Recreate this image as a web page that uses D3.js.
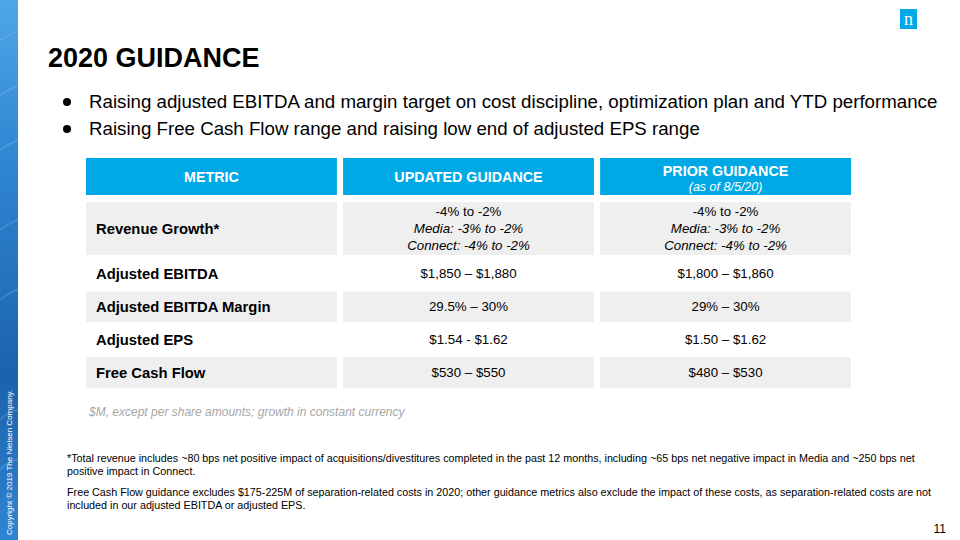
<!DOCTYPE html>
<html>
<head>
<meta charset="utf-8">
<script src="https://cdn.jsdelivr.net/npm/d3@7"></script>
<style>
  body { margin: 0; background: #fff; }
  svg { display: block; font-family: Arial, "Liberation Sans", sans-serif; }
</style>
</head>
<body>
<div id="slide"></div>
<script>
// table content
var columns = ["METRIC", "UPDATED GUIDANCE", "PRIOR GUIDANCE"];
var priorNote = "(as of 8/5/20)";
var metrics = ["Revenue Growth*", "Adjusted EBITDA", "Adjusted EBITDA Margin", "Adjusted EPS", "Free Cash Flow"];
var updated = [
    ["-4% to -2%", "Media: -3% to -2%", "Connect: -4% to -2%"],
    ["$1,850 \u2013 $1,880"],
    ["29.5% \u2013 30%"],
    ["$1.54 - $1.62"],
    ["$530 \u2013 $550"]
];
var prior = [
    ["-4% to -2%", "Media: -3% to -2%", "Connect: -4% to -2%"],
    ["$1,800 \u2013 $1,860"],
    ["29% \u2013 30%"],
    ["$1.50 \u2013 $1.62"],
    ["$480 \u2013 $530"]
];
var bullets = [
    "Raising adjusted EBITDA and margin target on cost discipline, optimization plan and YTD performance",
    "Raising Free Cash Flow range and raising low end of adjusted EPS range"
];
var unitsNote = "$M, except per share amounts; growth in constant currency";
var footnotes = [
    ["*Total revenue includes ~80 bps net positive impact of acquisitions/divestitures completed in the past 12 months, including ~65 bps net negative impact in Media and ~250 bps net",
     "positive impact in Connect."],
    ["Free Cash Flow guidance excludes $175-225M of separation-related costs in 2020; other guidance metrics also exclude the impact of these costs, as separation-related costs are not",
     "included in our adjusted EBITDA  or adjusted EPS."]
];

function init(){
    var w = 960;
    var h = 540;
    var blue = "#00a9e6";
    var grey = "#efefef";

    var svg = d3.select("#slide")
                .append("svg")
                .attr("width", w)
                .attr("height", h);

    // left decorative strip
    var defs = svg.append("defs");
    var grad = defs.append("linearGradient")
                    .attr("id", "strip")
                    .attr("x1", 0).attr("y1", 0)
                    .attr("x2", 0).attr("y2", 1);
    grad.append("stop").attr("offset", "0%").attr("stop-color", "#4fa6e6");
    grad.append("stop").attr("offset", "30%").attr("stop-color", "#2f86d2");
    grad.append("stop").attr("offset", "70%").attr("stop-color", "#1c62ad");
    grad.append("stop").attr("offset", "100%").attr("stop-color", "#2f86d2");

    svg.append("rect")
        .attr("x", 0).attr("y", 0)
        .attr("width", 18).attr("height", h)
        .style("fill", "url(#strip)");

    // faint streaks in the strip
    [40, 95, 150, 230, 300, 420, 470].forEach(function(y, i){
        svg.append("path")
            .attr("d", "M0," + y + " Q9," + (y - 4 - i) + " 18," + (y - 10))
            .style("fill", "none")
            .style("stroke", "#9fd3f5")
            .style("stroke-width", 1.5)
            .style("opacity", 0.25);
    });

    svg.append("text")
        .attr("transform", "translate(12,535) rotate(-90)")
        .style("font-size", "8px")
        .style("fill", "#ffffff")
        .text("Copyright \u00a9 2019 The Nielsen Company.");

    // logo
    svg.append("rect")
        .attr("x", 900).attr("y", 9)
        .attr("width", 17).attr("height", 20)
        .style("fill", blue);
    svg.append("text")
        .attr("x", 908.5).attr("y", 25)
        .attr("text-anchor", "middle")
        .style("font-family", "'Liberation Serif', 'DejaVu Serif', serif")
        .style("font-size", "18px")
        .style("fill", "#ffffff")
        .text("n");

    // title
    svg.append("text")
        .attr("x", 48).attr("y", 67)
        .style("font-size", "27px")
        .style("font-weight", "bold")
        .style("fill", "#000")
        .text("2020 GUIDANCE");

    // bullets
    var b = svg.selectAll(".bullet")
                .data(bullets)
                .enter()
                .append("g")
                .attr("class", "bullet")
                .attr("transform", function(d, i){ return "translate(0," + (108 + i * 27) + ")"; });
    b.append("circle")
        .attr("cx", 67).attr("cy", -6).attr("r", 4)
        .style("fill", "#000");
    b.append("text")
        .attr("x", 89)
        .style("font-size", "18.7px")
        .style("fill", "#000")
        .text(function(d){ return d; });

    // table scales
    var x = d3.scaleBand()
                .domain(columns)
                .range([86, 851])
                .paddingInner(0.024);

    var yRows = d3.scaleBand()
                .domain(metrics.slice(1))
                .range([258.5, 388])
                .paddingInner(0.065);

    function rowTop(i){ return i == 0 ? 202 : yRows(metrics[i]); }
    function rowH(i){ return i == 0 ? 53 : yRows.bandwidth(); }

    // header
    var head = svg.selectAll(".head")
                .data(columns)
                .enter()
                .append("g")
                .attr("class", "head");
    head.append("rect")
        .attr("x", function(d){ return x(d); })
        .attr("y", 158)
        .attr("width", x.bandwidth())
        .attr("height", 37)
        .style("fill", blue);
    head.append("text")
        .attr("x", function(d){ return x(d) + x.bandwidth() / 2; })
        .attr("y", function(d, i){ return i == 2 ? 176 : 182; })
        .attr("text-anchor", "middle")
        .style("font-size", "14.3px")
        .style("font-weight", "bold")
        .style("fill", "#fff")
        .text(function(d){ return d; });
    svg.append("text")
        .attr("x", x(columns[2]) + x.bandwidth() / 2)
        .attr("y", 191)
        .attr("text-anchor", "middle")
        .style("font-size", "12.5px")
        .style("font-style", "italic")
        .style("fill", "#fff")
        .text(priorNote);

    // body rows
    var rows = svg.selectAll(".row")
                .data(metrics)
                .enter()
                .append("g")
                .attr("class", "row");

    columns.forEach(function(col){
        rows.filter(function(d, i){ return i % 2 == 0; })
            .append("rect")
            .attr("x", x(col))
            .attr("y", function(d){ return rowTop(metrics.indexOf(d)); })
            .attr("width", x.bandwidth())
            .attr("height", function(d){ return rowH(metrics.indexOf(d)); })
            .style("fill", grey);
    });

    rows.append("text")
        .attr("x", x(columns[0]) + 10)
        .attr("y", function(d, i){ return rowTop(i) + rowH(i) / 2 + 5; })
        .style("font-size", "14.8px")
        .style("font-weight", "bold")
        .style("fill", "#000")
        .text(function(d){ return d; });

    [updated, prior].forEach(function(vals, c){
        var cx = x(columns[c + 1]) + x.bandwidth() / 2;
        rows.each(function(d, i){
            var lines = vals[i];
            var mid = rowTop(i) + rowH(i) / 2;
            d3.select(this).selectAll(".v" + c)
                .data(lines)
                .enter()
                .append("text")
                .attr("class", "v" + c)
                .attr("x", cx)
                .attr("y", function(t, k){ return mid + 4 + (k - (lines.length - 1) / 2) * 17; })
                .attr("text-anchor", "middle")
                .style("font-size", "13.3px")
                .style("font-style", function(t, k){ return k > 0 ? "italic" : "normal"; })
                .style("fill", "#000")
                .text(function(t){ return t; });
        });
    });

    // units note
    svg.append("text")
        .attr("x", 89).attr("y", 416)
        .style("font-size", "12px")
        .style("font-style", "italic")
        .style("fill", "#a6a6a6")
        .text(unitsNote);

    // footnotes
    footnotes.forEach(function(lines, p){
        svg.selectAll(".fn" + p)
            .data(lines)
            .enter()
            .append("text")
            .attr("x", 67)
            .attr("y", function(d, k){ return 462 + p * 34 + k * 13; })
            .style("font-size", "10.75px")
            .style("fill", "#000")
            .text(function(d){ return d; });
    });

    // page number
    svg.append("text")
        .attr("x", 946).attr("y", 533)
        .attr("text-anchor", "end")
        .style("font-size", "12px")
        .style("fill", "#000")
        .text("11");
}
window.onload = init;
</script>
</body>
</html>
